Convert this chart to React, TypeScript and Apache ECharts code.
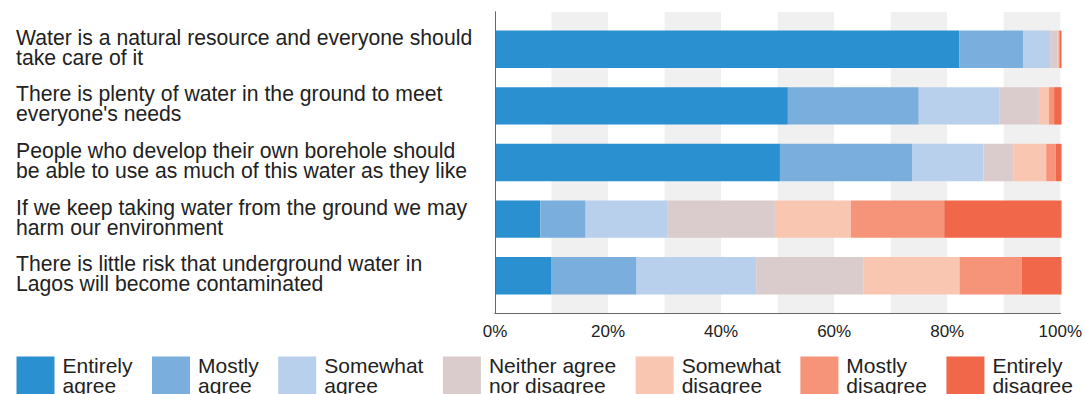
import React, { useEffect, useRef } from "react";
import * as echarts from "echarts";

const categories = [
  "Water is a natural resource and everyone should\ntake care of it",
  "There is plenty of water in the ground to meet\neveryone's needs",
  "People who develop their own borehole should\nbe able to use as much of this water as they like",
  "If we keep taking water from the ground we may\nharm our environment",
  "There is little risk that underground water in\nLagos will become contaminated",
];

const seriesNames = [
  "Entirely\nagree",
  "Mostly\nagree",
  "Somewhat\nagree",
  "Neither agree\nnor disagree",
  "Somewhat\ndisagree",
  "Mostly\ndisagree",
  "Entirely\ndisagree",
];

const entirelyAgree = [82.0, 51.7, 50.3, 8.0, 10.0];
const mostlyAgree = [11.2, 23.1, 23.4, 8.0, 15.0];
const somewhatAgree = [4.8, 14.2, 12.5, 14.5, 21.1];
const neither = [1.3, 7.0, 5.3, 18.9, 18.9];
const somewhatDisagree = [0.2, 1.8, 5.8, 13.4, 17.0];
const mostlyDisagree = [0.2, 0.9, 1.7, 16.5, 11.0];
const entirelyDisagree = [0.3, 1.3, 1.0, 20.7, 7.0];

const tickValues = [0, 20, 40, 60, 80, 100];

const colors = ["#2b90d0", "#79aedd", "#b9d0ec", "#dacccc", "#f9c6b1", "#f69479", "#f1674a"];

const seriesData = [
  entirelyAgree,
  mostlyAgree,
  somewhatAgree,
  neither,
  somewhatDisagree,
  mostlyDisagree,
  entirelyDisagree,
];

export default function App() {
  const ref = useRef<HTMLDivElement>(null);

  useEffect(() => {
    document.body.style.margin = "0";
    if (!ref.current) return;
    const chart = echarts.init(ref.current, null, { renderer: "svg" });
    const FONT = "'Liberation Sans', Arial, sans-serif";
    const borderLine = { show: true, lineStyle: { color: "#666", width: 1 } };

    chart.setOption({
      animation: false,
      textStyle: { fontFamily: FONT },
      grid: [
        { left: 495, right: 23.5, top: 12, bottom: 81 },
        { left: 495, right: 23.5, top: 21, bottom: 90 },
        { left: 495, right: 23.5, top: 19, bottom: 92 },
      ],
      legend: {
        left: 16.5,
        top: 355,
        padding: 0,
        itemWidth: 38,
        itemHeight: 38,
        itemGap: 19.5,
        icon: "rect",
        textStyle: {
          fontFamily: FONT,
          fontSize: 21,
          lineHeight: 20,
          color: "#222",
          padding: [0, 0, 0, 3],
        },
        data: seriesNames,
      },
      xAxis: [
        {
          gridIndex: 0,
          type: "value",
          position: "bottom",
          min: 0,
          max: 100,
          interval: 10,
          z: 0,
          axisLine: borderLine,
          axisTick: { show: false },
          splitLine: { show: false },
          splitArea: {
            show: true,
            areaStyle: { color: ["#ffffff", "#f0f0f0"] },
          },
          axisLabel: {
            fontSize: 17,
            color: "#222",
            margin: 10,
            fontFamily: FONT,
            formatter: (v: number) => (tickValues.includes(v) ? v + "%" : ""),
          },
        },
        {
          gridIndex: 0,
          type: "value",
          position: "top",
          min: 0,
          max: 100,
          z: 10,
          axisLine: borderLine,
          axisTick: { show: false },
          axisLabel: { show: false },
          splitLine: { show: false },
        },
        {
          gridIndex: 1,
          type: "value",
          min: 0,
          max: 100,
          show: false,
        },
        {
          gridIndex: 2,
          type: "value",
          min: 0,
          max: 100,
          show: false,
        },
      ],
      yAxis: [
        {
          gridIndex: 0,
          type: "value",
          position: "left",
          min: 0,
          max: 1,
          z: 10,
          axisLine: borderLine,
          axisTick: { show: false },
          axisLabel: { show: false },
          splitLine: { show: false },
        },
        {
          gridIndex: 0,
          type: "value",
          position: "right",
          min: 0,
          max: 1,
          z: 10,
          axisLine: borderLine,
          axisTick: { show: false },
          axisLabel: { show: false },
          splitLine: { show: false },
        },
        {
          gridIndex: 1,
          type: "category",
          inverse: true,
          data: categories,
          axisLine: { show: false },
          axisTick: { show: false },
          splitLine: { show: false },
          axisLabel: { show: false },
        },
        {
          gridIndex: 2,
          type: "category",
          inverse: true,
          data: categories,
          axisLine: { show: false },
          axisTick: { show: false },
          splitLine: { show: false },
          axisLabel: {
            align: "left",
            margin: 479,
            fontSize: 21.2,
            lineHeight: 20,
            color: "#222",
            fontFamily: FONT,
          },
        },
      ],
      series: seriesNames.map((name, i) => ({
        name,
        type: "bar",
        stack: "total",
        xAxisIndex: 2,
        yAxisIndex: 2,
        barWidth: "66%",
        itemStyle: { color: colors[i] },
        data: seriesData[i],
      })),
    });

    return () => chart.dispose();
  }, []);

  return <div ref={ref} style={{ width: 1085, height: 394 }} />;
}
